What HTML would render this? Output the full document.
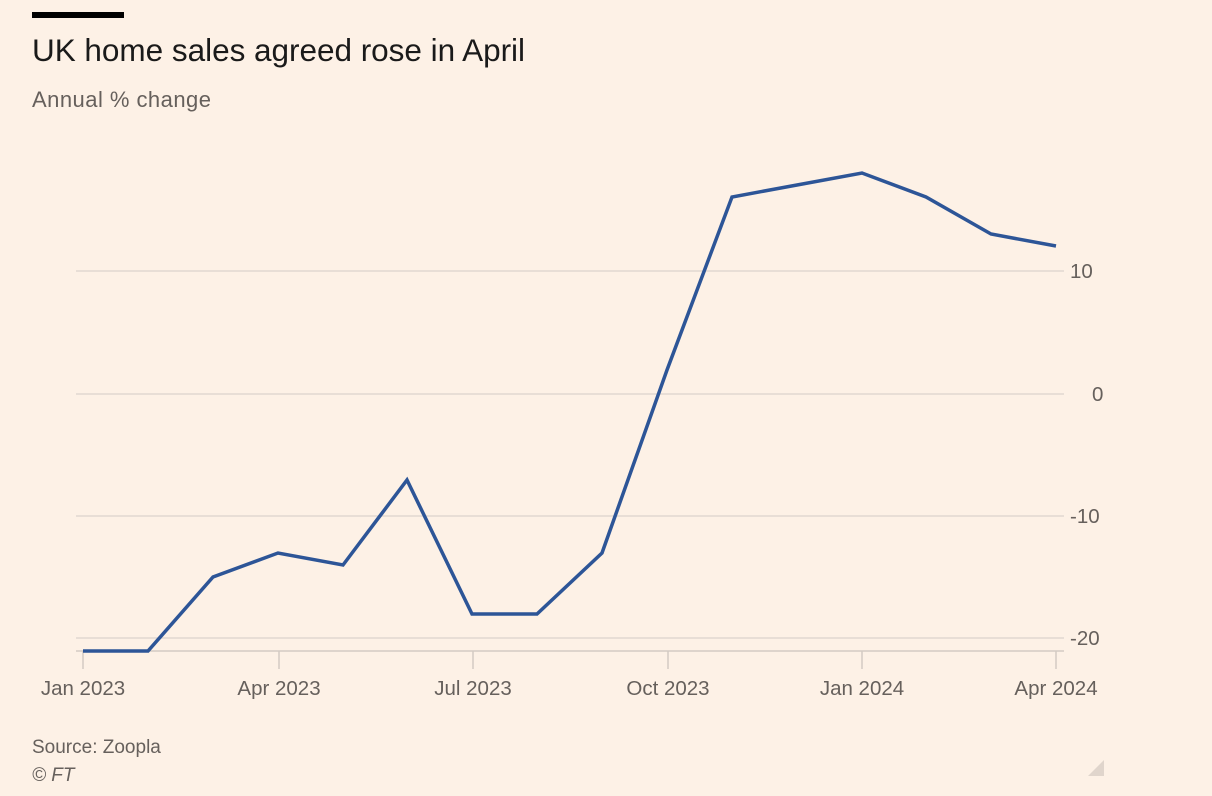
<!DOCTYPE html>
<html><head><style>
html,body{margin:0;padding:0;background:#fdf1e6;}
svg{display:block;font-family:"Liberation Sans",sans-serif;}
</style></head><body>
<svg width="1212" height="796" viewBox="0 0 1212 796">
<rect width="1212" height="796" fill="#fdf1e6"/>
<rect x="32" y="12" width="92" height="6" fill="#000"/>
<text x="32" y="61" font-size="31.5" fill="#1a1a1a" textLength="493">UK home sales agreed rose in April</text>
<text x="32" y="107" font-size="22" fill="#66605c" textLength="179">Annual % change</text>
<g stroke="#e2d8d0" stroke-width="1.5">
<line x1="76" y1="271" x2="1064" y2="271"/>
<line x1="76" y1="394" x2="1064" y2="394"/>
<line x1="76" y1="516" x2="1064" y2="516"/>
<line x1="76" y1="638" x2="1064" y2="638"/>
</g>
<g stroke="#d4cbc3" stroke-width="1.5">
<line x1="76" y1="651" x2="1064" y2="651"/>
<line x1="83" y1="651" x2="83" y2="669"/>
<line x1="279" y1="651" x2="279" y2="669"/>
<line x1="473" y1="651" x2="473" y2="669"/>
<line x1="668" y1="651" x2="668" y2="669"/>
<line x1="862" y1="651" x2="862" y2="669"/>
<line x1="1056" y1="651" x2="1056" y2="669"/>
</g>
<g font-size="20.5" fill="#66605c">
<text x="1070" y="278">10</text>
<text x="1092" y="401">0</text>
<text x="1070" y="523">-10</text>
<text x="1070" y="645">-20</text>
<g text-anchor="middle">
<text x="83" y="695">Jan 2023</text>
<text x="279" y="695">Apr 2023</text>
<text x="473" y="695">Jul 2023</text>
<text x="668" y="695">Oct 2023</text>
<text x="862" y="695">Jan 2024</text>
<text x="1056" y="695">Apr 2024</text>
</g>
<text x="32" y="753" font-size="19">Source: Zoopla</text>
<text x="32" y="781" font-size="19" font-style="italic">© FT</text>
</g>
<polyline fill="none" stroke="#2d5597" stroke-width="3.5" stroke-linejoin="miter" points="83,651 148,651 213,577 278,553 343,565 407,480 472,614 537,614 602,553 667,370 732,197 797,185 862,173 926,197 991,234 1056,246"/>
<polygon points="1104,760 1104,776 1088,776" fill="#e0d5cc"/>
</svg>
</body></html>
